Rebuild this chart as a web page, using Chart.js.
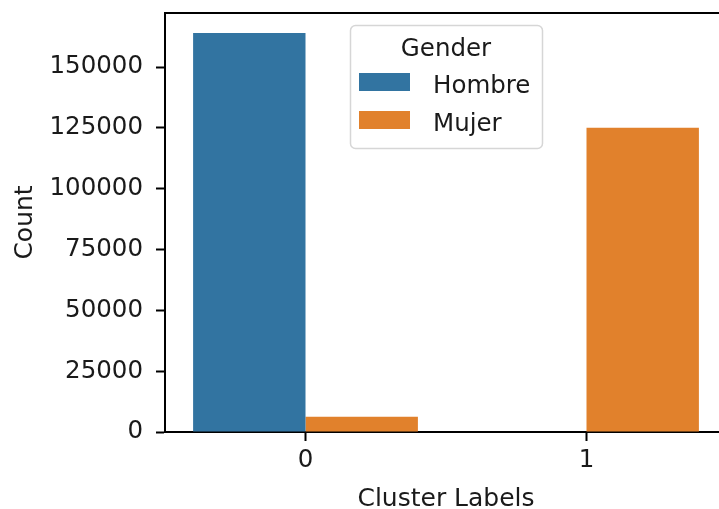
<!DOCTYPE html>
<html>
<head>
<meta charset="utf-8">
<script src="https://cdn.jsdelivr.net/npm/chart.js@4/dist/chart.umd.min.js"></script>
<style>
  html, body { margin: 0; padding: 0; background: #ffffff; }
  #wrap { width: 719px; height: 509px; overflow: hidden; position: relative; }
  canvas { display: block; }
</style>
</head>
<body>
<div id="wrap"><canvas id="chart" width="745" height="509"></canvas></div>
<script>
// Counts per cluster, split by gender
const clusterLabels = ['0', '1'];
const genderNames = ['Hombre', 'Mujer'];
const hombreCounts = [164000, 0];
const mujerCounts = [6300, 125000];
const yTickValues = [0, 25000, 50000, 75000, 100000, 125000, 150000];
const yAxisMax = 172200;

const genderColors = ['#3274a1', '#e1812c'];
const FONT = '"DejaVu Sans", sans-serif';
const TEXT = '#1a1a1a';
const TICK_SIZE = 24.5;
const TITLE_SIZE = 25;

// top spine (the right one falls outside the visible frame)
const frameTop = {
  id: 'frameTop',
  afterDraw(chart) {
    const { ctx, chartArea } = chart;
    ctx.save();
    ctx.strokeStyle = '#000';
    ctx.lineWidth = 2;
    ctx.beginPath();
    ctx.moveTo(chartArea.left - 1, chartArea.top);
    ctx.lineTo(chartArea.right + 1, chartArea.top);
    ctx.stroke();
    ctx.restore();
  }
};

// boxed legend with a title, in the upper middle of the axes
const genderLegend = {
  id: 'genderLegend',
  afterDraw(chart) {
    const { ctx } = chart;
    const x = 350, y = 25, w = 192, h = 123, r = 5;
    ctx.save();
    ctx.beginPath();
    ctx.roundRect(x + 0.5, y + 0.5, w, h, r);
    ctx.fillStyle = 'rgba(255,255,255,0.8)';
    ctx.fill();
    ctx.strokeStyle = '#d6d6d6';
    ctx.lineWidth = 1.5;
    ctx.stroke();

    ctx.font = TICK_SIZE + 'px ' + FONT;
    ctx.fillStyle = TEXT;
    ctx.textBaseline = 'alphabetic';
    ctx.textAlign = 'center';
    ctx.fillText('Gender', x + w / 2, 56);

    ctx.textAlign = 'left';
    chart.data.datasets.forEach((ds, i) => {
      const rowY = 73 + i * 38;
      ctx.fillStyle = ds.backgroundColor;
      ctx.fillRect(359, rowY, 51, 18);
      ctx.fillStyle = TEXT;
      ctx.fillText(ds.label, 433, rowY + 20);
    });
    ctx.restore();
  }
};

new Chart(document.getElementById('chart'), {
  type: 'bar',
  data: {
    labels: clusterLabels,
    datasets: [
      { label: genderNames[0], data: hombreCounts, backgroundColor: genderColors[0] },
      { label: genderNames[1], data: mujerCounts, backgroundColor: genderColors[1] }
    ]
  },
  options: {
    responsive: false,
    animation: false,
    devicePixelRatio: 1,
    layout: { padding: { top: 13, right: 18, left: 0, bottom: 0 } },
    datasets: {
      bar: { categoryPercentage: 0.8, barPercentage: 1.0, borderWidth: 0 }
    },
    plugins: {
      legend: { display: false },
      tooltip: { enabled: false }
    },
    scales: {
      x: {
        type: 'category',
        offset: true,
        grid: {
          offset: false,
          drawOnChartArea: false,
          drawTicks: true,
          tickLength: 9,
          tickWidth: 2,
          tickColor: '#000'
        },
        border: { display: true, color: '#000', width: 2 },
        ticks: { font: { family: FONT, size: TICK_SIZE }, color: TEXT, padding: 5 },
        title: {
          display: true,
          text: 'Cluster Labels',
          font: { family: FONT, size: TITLE_SIZE },
          color: TEXT,
          padding: { top: 0, bottom: -5 }
        },
        afterFit(scale) {
          scale.height = 77;
          scale.paddingLeft = 0;
          scale.paddingRight = 0;
        }
      },
      y: {
        min: 0,
        max: yAxisMax,
        afterBuildTicks(scale) { scale.ticks = yTickValues.map(v => ({ value: v })); },
        grid: {
          drawOnChartArea: false,
          drawTicks: true,
          tickLength: 9,
          tickWidth: 2,
          tickColor: '#000'
        },
        border: { display: true, color: '#000', width: 2 },
        ticks: {
          font: { family: FONT, size: TICK_SIZE },
          color: TEXT,
          padding: 13,
          callback: v => String(v)
        },
        title: {
          display: true,
          text: 'Count',
          font: { family: FONT, size: TITLE_SIZE },
          color: TEXT,
          padding: { top: 10, bottom: 0 }
        },
        afterFit(scale) {
          scale.width = 165;
          scale.paddingTop = 0;
          scale.paddingBottom = 0;
        }
      }
    }
  },
  plugins: [frameTop, genderLegend]
});
</script>
</body>
</html>
